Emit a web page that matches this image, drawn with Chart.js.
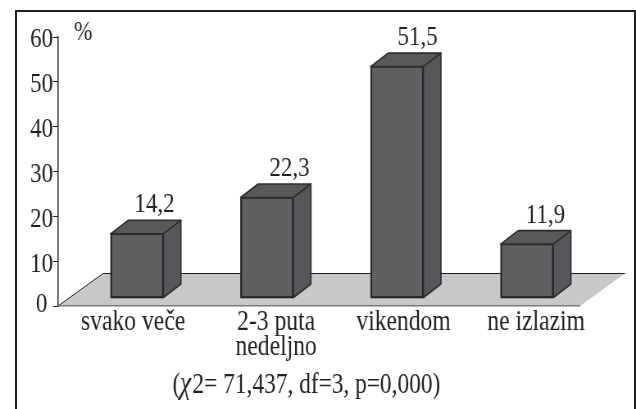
<!DOCTYPE html>
<html>
<head>
<meta charset="utf-8">
<style>
  html, body { margin: 0; background: #fff; overflow: hidden; }
  /* the original lettering is condensed, so the whole canvas is squeezed sideways */
  canvas { position: absolute; left: 0; top: 0; transform-origin: 0 0; transform: scaleX(0.8196); }
  #frame { position: absolute; left: 15px; top: 10px; width: 617px; height: 420px; border: solid #231f20; border-width: 2.5px 2px 0 2.5px; pointer-events: none; }
</style>
<script src="https://cdn.jsdelivr.net/npm/chart.js@4/dist/chart.umd.min.js"></script>
</head>
<body>
<canvas id="chart" width="776" height="409"></canvas>
<div id="frame"></div>
<script>
const categories = [['svako veče'], ['2-3 puta', 'nedeljno'], ['vikendom'], ['ne izlazim']];
const values = [14.2, 22.3, 51.5, 11.9];
const yTicks = [0, 10, 20, 30, 40, 50, 60];
const unitLabel = '%';
const chiSymbol = 'χ';
const note = '2= 71,437, df=3, p=0,000)';

const squeeze = 0.8196;
const px = v => v / squeeze;
const serif = 'Liberation Serif';
const ink = '#231f20';
const depth = { x: px(17.5), y: -13.5 };
const floorDepth = { x: px(45), y: -32.5 };
const labelNudge = [0, 5, 3, 1];
const tickCentres = [-0.03, 1.07, 2.05, 3.07];

const pseudo3d = {
  id: 'pseudo3d',
  beforeDraw(chart) {
    const { ctx, chartArea: a } = chart;
    ctx.save();
    ctx.beginPath();
    ctx.moveTo(a.left, a.bottom);
    ctx.lineTo(a.right, a.bottom);
    ctx.lineTo(a.right + floorDepth.x, a.bottom + floorDepth.y);
    ctx.lineTo(a.left + floorDepth.x, a.bottom + floorDepth.y);
    ctx.closePath();
    ctx.fillStyle = '#c7c8ca';
    ctx.fill();
    ctx.beginPath();
    ctx.moveTo(a.left, a.bottom);
    ctx.lineTo(a.left + floorDepth.x, a.bottom + floorDepth.y);
    ctx.lineTo(a.right + floorDepth.x, a.bottom + floorDepth.y);
    ctx.strokeStyle = ink;
    ctx.lineWidth = 1;
    ctx.stroke();
    ctx.restore();
  },
  afterDatasetsDraw(chart) {
    const { ctx } = chart;
    ctx.save();
    chart.getDatasetMeta(0).data.forEach((bar, i) => {
      const l = bar.x - bar.width / 2 - 0.5;
      const r = bar.x + bar.width / 2 + 0.5;
      const top = bar.y, base = bar.base;
      ctx.lineJoin = 'round';
      ctx.lineWidth = 1.6;
      ctx.strokeStyle = '#2f2c2d';
      ctx.beginPath();
      ctx.moveTo(l, top);
      ctx.lineTo(r, top);
      ctx.lineTo(r + depth.x, top + depth.y);
      ctx.lineTo(l + depth.x, top + depth.y);
      ctx.closePath();
      ctx.fillStyle = '#58595b';
      ctx.fill();
      ctx.stroke();
      ctx.beginPath();
      ctx.moveTo(r, top);
      ctx.lineTo(r + depth.x, top + depth.y);
      ctx.lineTo(r + depth.x, base + depth.y);
      ctx.lineTo(r, base);
      ctx.closePath();
      ctx.fillStyle = '#55575a';
      ctx.fill();
      ctx.stroke();

      ctx.fillStyle = ink;
      ctx.font = '28px "' + serif + '"';
      ctx.textAlign = 'center';
      ctx.textBaseline = 'alphabetic';
      ctx.fillText(values[i].toFixed(1).replace('.', ','), bar.x + depth.x + px(labelNudge[i]), top + depth.y - 8);
    });

    ctx.fillStyle = ink;
    ctx.textBaseline = 'alphabetic';
    ctx.textAlign = 'left';
    ctx.font = '27px "' + serif + '"';
    ctx.fillText(unitLabel, px(74), 40);

    ctx.font = '28.5px "' + serif + '"';
    ctx.fillText('(', px(172.5), 393);
    ctx.font = 'italic 31px "' + serif + '"';
    ctx.fillText(chiSymbol, px(180), 393);
    ctx.font = '28.5px "' + serif + '"';
    ctx.fillText(note, px(192.5), 393);
    ctx.restore();
  }
};

new Chart(document.getElementById('chart'), {
  type: 'bar',
  data: {
    datasets: [{
      data: values.map((v, i) => ({ x: i, y: v })),
      yAxisID: 'yBars',
      backgroundColor: '#5f6062',
      borderColor: ink,
      borderWidth: 2.2,
      borderSkipped: false,
      inflateAmount: 1,
      barThickness: px(52)
    }]
  },
  plugins: [pseudo3d],
  options: {
    responsive: false,
    animation: false,
    layout: { padding: { top: 37, right: px(56), left: 0, bottom: 0 } },
    plugins: { legend: { display: false }, tooltip: { enabled: false } },
    scales: {
      x: {
        type: 'linear',
        offset: false,
        min: -0.6077,
        max: 3.4077,
        grid: { display: false, drawTicks: false, offset: false },
        border: { color: '#77787b', width: 1.5 },
        afterBuildTicks: s => { s.ticks = tickCentres.map(v => ({ value: v })); },
        afterFit: s => { s.height = 103; },
        ticks: {
          autoSkip: false,
          maxRotation: 0,
          padding: 4,
          color: ink,
          font: { family: serif, size: 28.8, lineHeight: 0.86 },
          callback: (v, i) => categories[i]
        }
      },
      y: {
        min: 0,
        max: 60,
        afterBuildTicks: s => { s.ticks = yTicks.map(v => ({ value: v })); },
        afterFit: s => { s.width = px(58); },
        grid: { drawOnChartArea: false, tickLength: px(5), color: ink, tickWidth: 1 },
        border: { color: ink, width: 1.5 },
        ticks: {
          padding: 0,
          labelOffset: 3,
          color: ink,
          // the 0 sits a little higher and further left than the other labels
          font: c => ({ family: serif, size: 28, lineHeight: c.tick && c.tick.value === 0 ? 0.29 : 1.2 }),
          callback: v => (v === 0 ? ['0 ', ''] : String(v))
        }
      },
      yBars: { display: false, min: -1.9, max: 58.1 }
    }
  }
});
</script>
</body>
</html>
